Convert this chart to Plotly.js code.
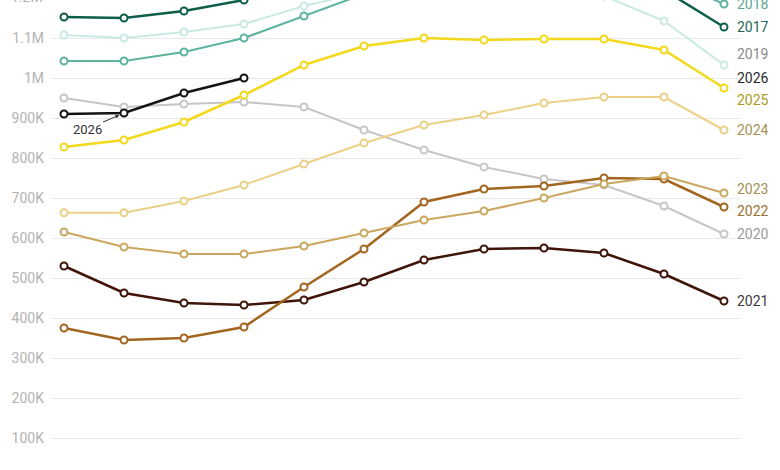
<!DOCTYPE html>
<html>
<head>
<meta charset="utf-8">
<script src="https://cdn.plot.ly/plotly-3.0.1.min.js"></script>
<style>
  body { margin: 0; background: #fff; }
  #chart { width: 780px; height: 470px; }
</style>
</head>
<body>
<div id="chart"></div>
<script>
var months = ['Jan', 'Feb', 'Mar', 'Apr', 'May', 'Jun', 'Jul', 'Aug', 'Sep', 'Oct', 'Nov', 'Dec']

// monthly values (top of chart is cropped, so the
// highest months of 2017-2019 are only rough guesses)
var y2017 = [1152500, 1150000, 1167500, 1195000, 1235000, 1265000, 1290000, 1295000, 1300000, 1290000, 1220000, 1127500]
var y2018 = [1042500, 1042500, 1065000, 1100000, 1155000, 1210000, 1240000, 1260000, 1265000, 1255000, 1250000, 1185000]
var y2019 = [1107500, 1100000, 1115000, 1135000, 1180000, 1215000, 1235000, 1245000, 1240000, 1205000, 1142500, 1032500]
var y2020 = [950000, 927500, 935000, 940000, 927500, 870000, 820000, 777500, 747500, 732500, 680000, 610000]
var y2021 = [530000, 462500, 437500, 432500, 445000, 490000, 545000, 572500, 575000, 562500, 510000, 442500]
var y2022 = [375000, 345000, 350000, 377500, 477500, 572500, 690000, 722500, 730000, 750000, 747500, 677500]
var y2023 = [615000, 577500, 560000, 560000, 580000, 612500, 645000, 667500, 700000, 735000, 755000, 712500]
var y2024 = [663000, 663000, 692500, 732500, 785000, 837500, 882500, 907500, 937500, 952500, 952500, 870000]
var y2025 = [827500, 845000, 890000, 957500, 1032500, 1080000, 1100000, 1095000, 1097500, 1097500, 1070000, 975000]
var y2026 = [910000, 912500, 962500, 1000000]

var tickVals = [100000, 200000, 300000, 400000, 500000, 600000, 700000, 800000, 900000, 1000000, 1100000]
var tickText = ['100K', '200K', '300K', '400K', '500K', '600K', '700K', '800K', '900K', '1M', '1.1M']

var series = [
  {name: '2017', y: y2017, color: '#0f5e4b', label: '#1f6a58', w: 2.5, shift: 0},
  {name: '2018', y: y2018, color: '#5db3a0', label: '#5aa994', w: 2, shift: 0},
  {name: '2019', y: y2019, color: '#c9e9e3', label: '#8a8a8a', w: 2, shift: 11},
  {name: '2020', y: y2020, color: '#c6c6c6', label: '#9a9a9a', w: 2, shift: 0},
  {name: '2021', y: y2021, color: '#3f1409', label: '#3a3a3a', w: 2.5, shift: 0},
  {name: '2022', y: y2022, color: '#a2661f', label: '#9a7233', w: 2.5, shift: -4},
  {name: '2023', y: y2023, color: '#caa75e', label: '#a48e52', w: 2, shift: 4},
  {name: '2024', y: y2024, color: '#ecd088', label: '#a89252', w: 2, shift: 0},
  {name: '2025', y: y2025, color: '#f3d81b', label: '#aa9a18', w: 2.5, shift: -12},
  {name: '2026', y: y2026, color: '#141414', label: '#2a2a2a', w: 2.5, shift: 0}
]

var traces = series.map(s => ({
  x: months.slice(0, s.y.length),
  y: s.y,
  name: s.name,
  type: 'scatter',
  mode: 'lines+markers',
  line: {color: s.color, width: s.w},
  marker: {symbol: 'circle', size: 7, color: '#fff', line: {color: s.color, width: 2}},
  hoverinfo: 'skip',
  cliponaxis: true
}))

// year labels on the right edge
var annotations = series.map(s => {
  var last = s.y.length - 1
  return {
    x: months[11], y: s.y[last], xref: 'x', yref: 'y',
    text: s.name, showarrow: false,
    xanchor: 'left', yanchor: 'middle', xshift: 11, yshift: s.shift,
    font: {family: 'Roboto, sans-serif', size: 14, color: s.label}
  }
})

// pointer to the 2026 line
annotations.push({
  x: months[1], y: y2026[1], xref: 'x', yref: 'y',
  text: '2026', showarrow: true, arrowhead: 2, arrowsize: 0.8, arrowwidth: 1,
  arrowcolor: '#333', ax: -37, ay: 16, standoff: 5,
  font: {family: 'Roboto, sans-serif', size: 13, color: '#333'}
})
// top tick label, cut by the frame like in the source
annotations.push({
  x: 0, y: 1 + 3 / 470, xref: 'paper', yref: 'paper',
  text: '1.2M', showarrow: false, xanchor: 'right', yanchor: 'middle', xshift: -7,
  font: {family: 'Roboto, sans-serif', size: 14, color: '#b3b3b3'}
})

Plotly.newPlot(document.getElementById('chart'), traces, {
  width: 780,
  height: 470,
  margin: {l: 52, r: 40, t: 0, b: 0},
  paper_bgcolor: '#fff',
  plot_bgcolor: '#fff',
  showlegend: false,
  xaxis: {
    type: 'category',
    range: [-0.2, 11.267],
    showgrid: false,
    zeroline: false,
    showticklabels: false,
    showline: false
  },
  yaxis: {
    range: [20000, 1195000],
    tickvals: tickVals,
    ticktext: tickText,
    showgrid: true,
    gridcolor: '#e9e9e9',
    gridwidth: 1,
    zeroline: false,
    showline: false,
    ticks: '',
    ticklabelstandoff: 7,
    tickfont: {family: 'Roboto, sans-serif', size: 14, color: '#b3b3b3'}
  },
  annotations: annotations
}, {staticPlot: true})
</script>
</body>
</html>
